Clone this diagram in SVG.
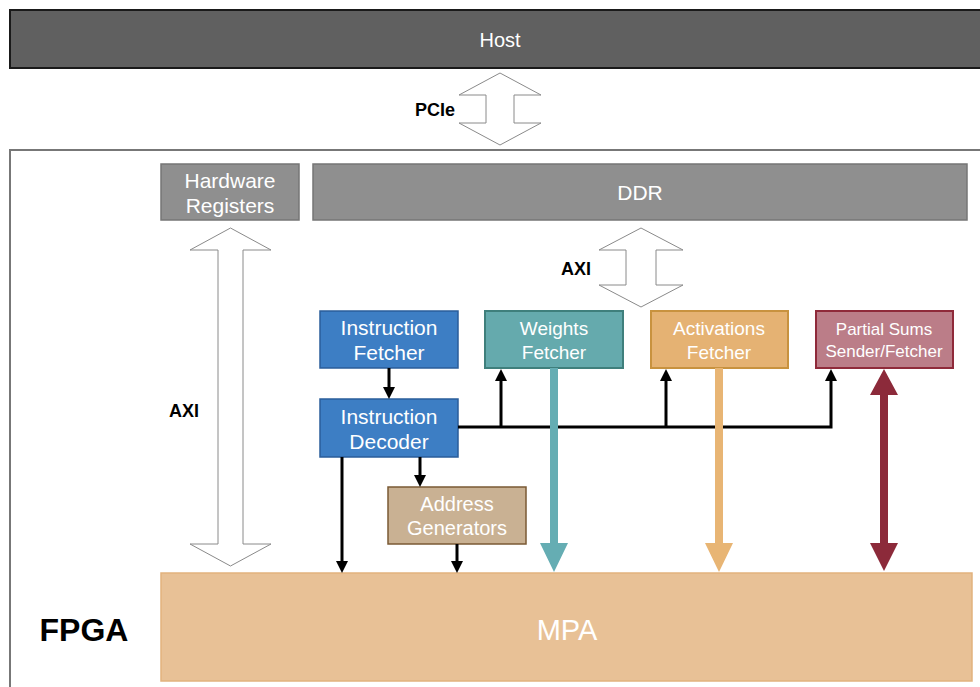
<svg xmlns="http://www.w3.org/2000/svg" width="980" height="687" viewBox="0 0 980 687">
  <style>
    .lbl { font-family: "Liberation Sans", Arial, sans-serif; fill: #ffffff; text-anchor: middle; }
    .tag { font-family: "Liberation Sans", Arial, sans-serif; fill: #000000; font-weight: bold; text-anchor: middle; }
    .hollow { fill: #ffffff; stroke: #8a8a8a; stroke-width: 1; }
    .ctl { fill: none; stroke: #000000; stroke-width: 3; }
    .gray { fill: #8f8f8f; stroke: #767676; stroke-width: 1.5; }
  </style>
  <defs>
    <marker id="head" viewBox="0 0 12 12" refX="0" refY="6" markerWidth="12" markerHeight="12" markerUnits="userSpaceOnUse" orient="auto">
      <path d="M0,0 L12,6 L0,12 z" fill="#000000"/>
    </marker>
  </defs>

  <!-- background -->
  <rect x="0" y="0" width="980" height="687" fill="#ffffff"/>

  <!-- Host -->
  <g id="host">
    <rect x="10" y="10" width="1000" height="58" fill="#606060" stroke="#1a1a1a" stroke-width="2"/>
    <text class="lbl" x="500" y="47" font-size="20">Host</text>
  </g>

  <!-- FPGA boundary -->
  <g id="fpga">
    <rect x="10" y="150" width="1000" height="600" fill="#ffffff" stroke="#777777" stroke-width="2"/>
    <text class="tag" x="84" y="641" font-size="32">FPGA</text>
  </g>

  <g id="hw-registers">
    <rect class="gray" x="161" y="164" width="138" height="56"/>
    <text class="lbl" x="230" y="188" font-size="21">Hardware</text>
    <text class="lbl" x="230" y="213" font-size="21">Registers</text>
  </g>

  <g id="ddr">
    <rect class="gray" x="313" y="164" width="654" height="56"/>
    <text class="lbl" x="640" y="200" font-size="21">DDR</text>
  </g>

  <g id="instruction-fetcher">
    <rect x="320" y="311" width="138" height="57" fill="#3d7ec4" stroke="#2a5d9a" stroke-width="1.5"/>
    <text class="lbl" x="389" y="335" font-size="21">Instruction</text>
    <text class="lbl" x="389" y="360" font-size="21">Fetcher</text>
  </g>

  <g id="instruction-decoder">
    <rect x="320" y="399" width="138" height="58" fill="#3d7ec4" stroke="#2a5d9a" stroke-width="1.5"/>
    <text class="lbl" x="389" y="424" font-size="21">Instruction</text>
    <text class="lbl" x="389" y="449" font-size="21">Decoder</text>
  </g>

  <g id="weights-fetcher">
    <rect x="485" y="311" width="138" height="57" fill="#65aaad" stroke="#3f7f7c" stroke-width="2"/>
    <text class="lbl" x="554" y="335" font-size="19">Weights</text>
    <text class="lbl" x="554" y="359" font-size="19">Fetcher</text>
  </g>

  <g id="activations-fetcher">
    <rect x="651" y="311" width="137" height="57" fill="#e5b273" stroke="#c8923f" stroke-width="2"/>
    <text class="lbl" x="719" y="335" font-size="19">Activations</text>
    <text class="lbl" x="719" y="359" font-size="19">Fetcher</text>
  </g>

  <g id="partial-sums">
    <rect x="816" y="311" width="137" height="57" fill="#bb7d88" stroke="#8f2a3a" stroke-width="2"/>
    <text class="lbl" x="884" y="335" font-size="17">Partial Sums</text>
    <text class="lbl" x="884" y="357" font-size="17">Sender/Fetcher</text>
  </g>

  <g id="address-generators">
    <rect x="388" y="487" width="138" height="57" fill="#c9b193" stroke="#7a5a35" stroke-width="1.5"/>
    <text class="lbl" x="457" y="511" font-size="20">Address</text>
    <text class="lbl" x="457" y="535" font-size="20">Generators</text>
  </g>

  <g id="mpa">
    <rect x="161" y="573" width="811" height="108" fill="#e8c196" stroke="#e2b27d" stroke-width="1.5"/>
    <text class="lbl" x="567" y="640" font-size="29">MPA</text>
  </g>

  <!-- connectors -->
  <g id="connectors">
    <!-- PCIe between host and FPGA -->
    <polygon class="hollow" points="500,73 541,95 514,95 514,123 541,123 500,145 459,123 486,123 486,95 459,95"/>
    <text class="tag" x="435" y="116" font-size="18">PCIe</text>

    <!-- AXI between DDR and the fetchers -->
    <polygon class="hollow" points="641,228 683,250 656,250 656,285 683,285 641,307 599,285 626,285 626,250 599,250"/>
    <text class="tag" x="576" y="275" font-size="18">AXI</text>

    <!-- AXI between hardware registers and MPA -->
    <polygon class="hollow" points="230.5,228 271,250 243,250 243,544 271,544 230.5,566 190,544 218,544 218,250 190,250"/>
    <text class="tag" x="184" y="417" font-size="18">AXI</text>

    <!-- control paths -->
    <line class="ctl" x1="389" y1="368" x2="389" y2="387" marker-end="url(#head)"/>
    <polyline class="ctl" points="458,427 831,427 831,381" marker-end="url(#head)"/>
    <line class="ctl" x1="501" y1="427" x2="501" y2="381" marker-end="url(#head)"/>
    <line class="ctl" x1="666" y1="427" x2="666" y2="381" marker-end="url(#head)"/>
    <line class="ctl" x1="342" y1="457" x2="342" y2="561" marker-end="url(#head)"/>
    <line class="ctl" x1="420" y1="457" x2="420" y2="475" marker-end="url(#head)"/>
    <line class="ctl" x1="457" y1="544" x2="457" y2="561" marker-end="url(#head)"/>

    <!-- data paths into MPA -->
    <polygon fill="#65adb3" points="550,368 558,368 558,543 568,543 554,572 540,543 550,543"/>
    <polygon fill="#e8b574" points="715,368 723,368 723,543 733,543 719,572 705,543 715,543"/>
    <polygon fill="#8c2a3a" points="884,369 898,395 888,395 888,543 898,543 884,571 870,543 880,543 880,395 870,395"/>
  </g>
</svg>
